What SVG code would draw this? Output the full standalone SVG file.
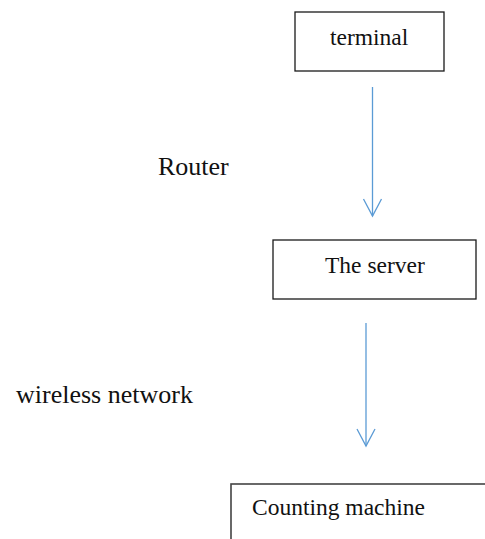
<svg xmlns="http://www.w3.org/2000/svg" width="485" height="539" viewBox="0 0 485 539">
  <style>
    .box { fill: #ffffff; stroke: #1a1a1a; stroke-width: 1.3; }
    .txt { font-family: "Liberation Serif", "Times New Roman", serif; fill: #111111; }
    .node-txt { font-size: 23.5px; }
    .lbl { font-size: 26px; }
    .link { stroke: #5b9bd5; stroke-width: 1.3; fill: none; }
  </style>
  <defs>
    <marker id="vhead" markerUnits="userSpaceOnUse" markerWidth="24" markerHeight="24" viewBox="-12 -20 24 24" refX="0" refY="0" orient="auto-start-reverse" overflow="visible">
      <path d="M-17,-9 L0,0 L-17,9" transform="rotate(0)" fill="none" stroke="#5b9bd5" stroke-width="1.3"/>
    </marker>
  </defs>
  <rect width="485" height="539" fill="#ffffff"/>

  <g id="terminal">
    <rect class="box" x="295" y="12" width="149" height="59"/>
    <text class="txt node-txt" x="330" y="45">terminal</text>
  </g>

  <g id="server">
    <rect class="box" x="273" y="240" width="203" height="59"/>
    <text class="txt node-txt" x="325" y="273">The server</text>
  </g>

  <g id="counting-machine">
    <rect class="box" x="231" y="484" width="270" height="80" style="stroke:#444444;stroke-width:1.6"/>
    <text class="txt node-txt" x="252" y="515">Counting machine</text>
  </g>

  <g id="connectors">
    <line class="link" x1="372.5" y1="87" x2="372.5" y2="216" marker-end="url(#vhead)"/>
    <line class="link" x1="366" y1="323" x2="366" y2="446" marker-end="url(#vhead)"/>
  </g>

  <g id="labels">
    <text class="txt lbl" x="158" y="175">Router</text>
    <text class="txt lbl" x="16" y="403">wireless network</text>
  </g>
</svg>
